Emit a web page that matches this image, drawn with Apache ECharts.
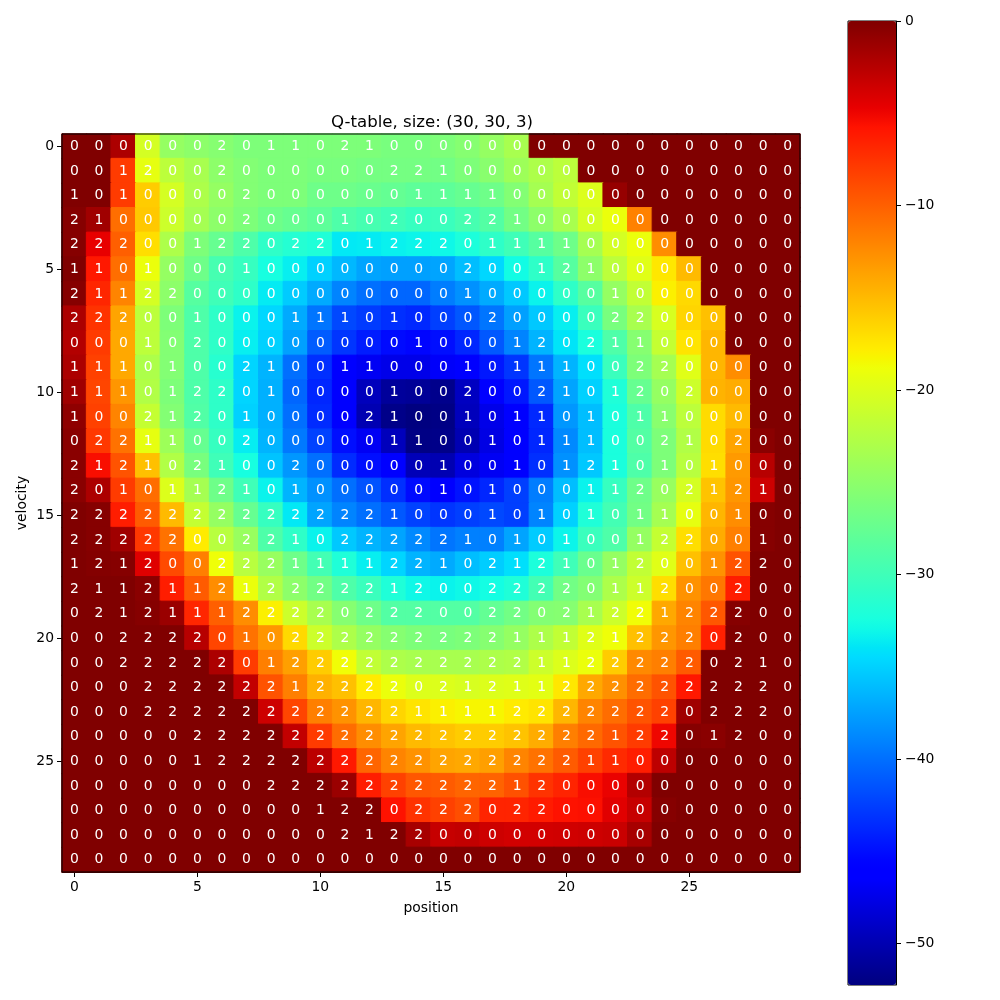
<!DOCTYPE html>
<html>
<head>
<meta charset="utf-8">
<style>html,body{margin:0;padding:0;background:#fff}#c{width:1000px;height:1000px}</style>
<script src="https://cdn.jsdelivr.net/npm/echarts@6/dist/echarts.min.js"></script>
</head>
<body>
<div id="c"></div>
<script>
const titleText = 'Q-table, size: (30, 30, 3)';
const xName = 'position';
const yName = 'velocity';
const positions = Array.from({length:30},(_,i)=>String(i));
const velocities = Array.from({length:30},(_,i)=>String(i));
const colorbarTicks = [0,-10,-20,-30,-40,-50];
const valueMin = -52.25, valueMax = 0;

const maxQ = [
[0,0,-2,-20.5,-24.5,-25,-25.5,-26,-26,-26,-26,-26,-26,-26.3,-26.3,-26,-25.5,-24.5,-23.3,0,0,0,0,0,0,0,0,0,0,0],
[0,0,-8,-19.3,-22,-23.3,-25,-25.7,-26,-26,-26.3,-26.3,-26.5,-26.5,-26.5,-26.7,-26,-25.3,-24,-23,-22,0,0,0,0,0,0,0,0,0],
[0,0,-8,-16,-20.5,-23,-24.5,-25.7,-26,-26,-27,-27,-27.3,-27.6,-28,-28,-27.5,-27,-25.7,-23.5,-21.7,-20,-1,0,0,0,0,0,0,0],
[-0.3,-1.5,-10.8,-15.8,-21,-23.5,-25,-26,-27,-27.5,-28,-29,-29.5,-30,-30.5,-30.3,-29.5,-28.7,-26.7,-25,-23.3,-20.5,-19,-11.8,0,0,0,0,0,0],
[-0.3,-4.7,-10,-17,-23,-26,-27.5,-29,-31,-31.7,-32,-33.8,-33.7,-33.4,-33.2,-33,-32.2,-31,-30,-28.5,-27,-23.5,-20.5,-19,-12.5,0,0,0,0,0],
[0,-6,-10.8,-19,-24.5,-27,-29.5,-30.5,-32.5,-33.5,-35,-36.3,-37.3,-37.5,-37.5,-37.3,-36,-34.7,-32.8,-31,-28.5,-25,-22,-19.7,-17.5,-15,0,0,0,0],
[-0.3,-6.8,-12,-20.5,-25,-28.5,-30,-31,-33.7,-35.3,-37,-39,-40,-40.5,-40.5,-39.3,-38.3,-37,-35.5,-33.3,-31,-28.5,-24.5,-21.7,-18,-16.7,0,0,0,0],
[-2,-7.5,-13.8,-22,-26,-29,-31,-33.3,-34.7,-37,-39.7,-42,-42.7,-43.3,-43.7,-42.5,-41.3,-39.7,-37.5,-35.5,-33.5,-30.3,-26.3,-23.3,-20.3,-16.5,-15.3,0,0,0],
[-2.3,-8,-14,-22,-25.7,-29,-31,-33.5,-35,-37.5,-41,-43,-44.3,-45.2,-45.5,-45,-43.8,-41.2,-39,-36.5,-34,-32.3,-29,-25.5,-21.5,-17.3,-14.8,0,0,0],
[-2,-8.3,-14,-23,-25.7,-29,-31.5,-34.8,-36.5,-40,-43.3,-45.8,-47,-47.5,-47.5,-46.7,-46,-44.5,-43,-39.7,-36.5,-34.3,-30.3,-26,-23.5,-19.7,-14.8,-12.5,0,0],
[-1.5,-8.5,-13,-22.7,-26,-29,-31,-34.8,-36.7,-40.5,-43.8,-46.5,-49.5,-51,-51.2,-51.7,-49.3,-46.5,-44.5,-41.2,-37.3,-35,-32,-27.5,-24.5,-21,-14.6,-14.2,0,0],
[-0.7,-8.3,-12,-21.5,-25.7,-28.8,-31,-35,-36.7,-40,-43.5,-46,-50,-51.8,-52.25,-52,-49.5,-47.5,-46,-43.7,-38,-36,-32.3,-29,-25.3,-22,-16.8,-15,0,0],
[-0.5,-7.8,-11,-19.3,-24,-27.5,-30.5,-33.6,-36.5,-39.5,-42.3,-45,-47,-49.5,-52,-51.8,-50,-47.7,-46,-43.8,-38.7,-36,-32.3,-28.7,-26,-22.7,-16.8,-13.8,-0.5,0],
[-0.5,-5.5,-9.3,-15.3,-22.7,-26.3,-30,-32.5,-35.7,-38,-40,-43.5,-45,-46.3,-49.7,-50,-48,-47,-46,-43.3,-38.3,-35.5,-32.3,-29,-26,-22.3,-17,-13.2,-2.5,0],
[-0.5,-2,-8,-10.7,-20,-23.5,-27,-30,-33.3,-36.5,-38.3,-40,-41.5,-43.3,-45.2,-46,-44.8,-43.8,-42.5,-39.3,-36,-33.3,-30.5,-27,-24.3,-20.5,-15.5,-13,-3.5,0],
[0,-0.3,-6.3,-9.7,-15,-21.5,-24.5,-27.5,-30.5,-33.8,-37.3,-39,-40,-41.2,-42.3,-43,-42.5,-42,-42.5,-39,-35,-32,-29.7,-26.7,-23.5,-19.3,-14.8,-12.5,-0.3,0],
[0,-0.3,-1.5,-7.8,-11,-17.7,-22.3,-24.3,-29,-31,-33.3,-35.5,-36.5,-37.3,-38.7,-39.7,-39.2,-39.2,-37.3,-35.3,-33.2,-30.3,-29,-24.5,-21.5,-17,-14.2,-11.7,-0.3,0],
[0,-0.2,-0.3,-4.3,-8.8,-11.7,-18.8,-22.3,-24.3,-27,-29.7,-32,-33.5,-34.8,-36.5,-37,-36,-35.2,-34.3,-32.2,-30,-27.3,-24.5,-21.7,-19.7,-15.3,-12.8,-9.3,0,0],
[0,0,0,-0.5,-6.3,-9.7,-12.5,-19,-22.7,-25,-26.7,-29,-30.3,-32,-33,-33.3,-33,-32.7,-32,-29.7,-26.7,-25.7,-23,-21,-17,-12.8,-11.3,-6.3,0,0],
[0,0,0,-0.3,-1.2,-6.8,-10,-12.5,-18,-21,-23.3,-25.5,-27,-28.7,-28.7,-28.7,-28.7,-27.7,-26.7,-25.7,-25.5,-23.3,-21,-18.7,-14,-12,-9.5,-0.3,0,0],
[0,0,0,0,0,-2.5,-8.5,-11,-13,-16.7,-21,-23,-24.5,-25.5,-26,-26.3,-26,-25.5,-24.5,-23,-21.7,-19.8,-18.8,-15.3,-13,-11.7,-6.5,0,0,0],
[0,0,0,0,0,0,-2,-8,-11.7,-13.5,-16,-18.7,-21.7,-23,-23.3,-23.3,-23.3,-23,-22.7,-21,-20,-19,-16,-12.3,-11.7,-9.7,0,0,0,0],
[0,0,0,0,0,0,0,-3,-9.3,-11.7,-14.5,-15.3,-17.7,-19,-20,-20,-20.3,-20,-19.8,-19.5,-17.5,-14,-12.7,-10.7,-9.3,-6,0,0,0,0],
[0,0,0,0,0,0,0,0,-3.5,-8.5,-11.7,-12.8,-14.8,-16.5,-17.3,-18,-18.3,-18.3,-17.7,-17.3,-14.8,-12,-10.7,-9.3,-8.3,-1.5,0,0,0,0],
[0,0,0,0,0,0,0,0,0,-3,-8,-10.7,-12.5,-13.8,-15,-15.5,-16,-16,-15.5,-14.2,-11.7,-10.5,-9.3,-8,-5,-0.3,-0.5,0,0,0],
[0,0,0,0,0,0,0,0,0,0,-2.7,-6,-10.3,-12,-12.8,-13.8,-14,-13.5,-12,-11,-9.7,-8.3,-7,-6.3,-2.8,0,0,0,0,0],
[0,0,0,0,0,0,0,0,0,0,0,-1.2,-6.3,-8.3,-9.5,-9.7,-10.3,-10.2,-9.2,-7.5,-6.7,-5.5,-4.8,-2.3,0,0,0,0,0,0],
[0,0,0,0,0,0,0,0,0,0,0,0,0,-5.7,-7.5,-8.3,-9,-6.7,-6.7,-6.2,-5.7,-5.6,-4.4,-3.2,-0.3,0,0,0,0,0],
[0,0,0,0,0,0,0,0,0,0,0,0,0,0,-1.8,-3.2,-3,-3.5,-3.7,-3.7,-3.6,-3.5,-3.3,-1.8,0,0,0,0,0,0],
[0,0,0,0,0,0,0,0,0,0,0,0,0,0,0,0,0,0,0,0,0,0,0,0,0,0,0,0,0,0]
];

const bestAction = [
[0,0,0,0,0,0,2,0,1,1,0,2,1,0,0,0,0,0,0,0,0,0,0,0,0,0,0,0,0,0],
[0,0,1,2,0,0,2,0,0,0,0,0,0,2,2,1,0,0,0,0,0,0,0,0,0,0,0,0,0,0],
[1,0,1,0,0,0,0,2,0,0,0,0,0,0,1,1,1,1,0,0,0,0,0,0,0,0,0,0,0,0],
[2,1,0,0,0,0,0,2,0,0,0,1,0,2,0,0,2,2,1,0,0,0,0,0,0,0,0,0,0,0],
[2,2,2,0,0,1,2,2,0,2,2,0,1,2,2,2,0,1,1,1,1,0,0,0,0,0,0,0,0,0],
[1,1,0,1,0,0,0,1,0,0,0,0,0,0,0,0,2,0,0,1,2,1,0,0,0,0,0,0,0,0],
[2,1,1,2,2,0,0,0,0,0,0,0,0,0,0,0,1,0,0,0,0,0,1,0,0,0,0,0,0,0],
[2,2,2,0,0,1,0,0,0,1,1,1,0,1,0,0,0,2,0,0,0,0,2,2,0,0,0,0,0,0],
[0,0,0,1,0,2,0,0,0,0,0,0,0,0,1,0,0,0,1,2,0,2,1,1,0,0,0,0,0,0],
[1,1,1,0,1,0,0,2,1,0,0,1,1,0,0,0,1,0,1,1,1,0,0,2,2,0,0,0,0,0],
[1,1,1,0,1,2,2,0,1,0,0,0,0,1,0,0,2,0,0,2,1,0,1,2,0,2,0,0,0,0],
[1,0,0,2,1,2,0,1,0,0,0,0,2,1,0,0,1,0,1,1,0,1,0,1,1,0,0,0,0,0],
[0,2,2,1,1,0,0,2,0,0,0,0,0,1,1,0,0,1,0,1,1,1,0,0,2,1,0,2,0,0],
[2,1,2,1,0,2,1,0,0,2,0,0,0,0,0,1,0,0,1,0,1,2,1,0,1,0,1,0,0,0],
[2,0,1,0,1,1,2,1,0,1,0,0,0,0,0,1,0,1,0,0,0,1,1,2,0,2,1,2,1,0],
[2,2,2,2,2,2,2,2,2,2,2,2,2,1,0,0,0,1,0,1,0,1,0,1,1,0,0,1,0,0],
[2,2,2,2,2,0,0,2,2,1,0,2,2,2,2,2,1,0,1,0,1,0,0,1,2,2,0,0,1,0],
[1,2,1,2,0,0,2,2,2,1,1,1,1,2,2,1,0,2,1,2,1,0,1,2,0,0,1,2,2,0],
[2,1,1,2,1,1,2,1,2,2,2,2,2,1,2,0,0,2,2,2,2,0,1,1,2,0,0,2,0,0],
[0,2,1,2,1,1,1,2,2,2,2,0,2,2,2,0,0,2,2,0,2,1,2,2,1,2,2,2,0,0],
[0,0,2,2,2,2,0,1,0,2,2,2,2,2,2,2,2,2,1,1,1,2,1,2,2,2,0,2,0,0],
[0,0,2,2,2,2,2,0,1,2,2,2,2,2,2,2,2,2,2,1,1,2,2,2,2,2,0,2,1,0],
[0,0,0,2,2,2,2,2,2,1,2,2,2,2,0,2,1,2,1,1,2,2,2,2,2,2,2,2,2,0],
[0,0,0,2,2,2,2,2,2,2,2,2,2,2,1,1,1,1,2,2,2,2,2,2,2,0,2,2,2,0],
[0,0,0,0,0,2,2,2,2,2,2,2,2,2,2,2,2,2,2,2,2,2,1,2,2,0,1,2,0,0],
[0,0,0,0,0,1,2,2,2,2,2,2,2,2,2,2,2,2,2,2,2,1,1,0,0,0,0,0,0,0],
[0,0,0,0,0,0,0,0,2,2,2,2,2,2,2,2,2,2,1,2,0,0,0,0,0,0,0,0,0,0],
[0,0,0,0,0,0,0,0,0,0,1,2,2,0,2,2,2,0,2,2,0,0,0,0,0,0,0,0,0,0],
[0,0,0,0,0,0,0,0,0,0,0,2,1,2,2,0,0,0,0,0,0,0,0,0,0,0,0,0,0,0],
[0,0,0,0,0,0,0,0,0,0,0,0,0,0,0,0,0,0,0,0,0,0,0,0,0,0,0,0,0,0]
];

// matplotlib "jet" colormap segments
function seg(pts,t){for(let i=1;i<pts.length;i++){if(t<=pts[i][0]){const a=pts[i-1],b=pts[i];return a[1]+(b[1]-a[1])*(t-a[0])/(b[0]-a[0]);}}return pts[pts.length-1][1];}
const jetR=[[0,0],[.35,0],[.66,1],[.89,1],[1,.5]];
const jetG=[[0,0],[.125,0],[.375,1],[.64,1],[.91,0],[1,0]];
const jetB=[[0,.5],[.11,1],[.34,1],[.65,0],[1,0]];
function jetAt(t){return 'rgb('+Math.round(seg(jetR,t)*255)+','+Math.round(seg(jetG,t)*255)+','+Math.round(seg(jetB,t)*255)+')';}
const jet=[];
for(let i=0;i<=200;i++){jet.push(jetAt(i/200));}

// each cell gets a stroke of its own colour so neighbouring cells leave no seam
const cells=[];
maxQ.forEach((row,y)=>row.forEach((v,x)=>cells.push({
  value:[x,y,v,bestAction[y][x]],
  itemStyle:{borderWidth:1,borderColor:jetAt((v-valueMin)/(valueMax-valueMin))}
})));

const font='"DejaVu Sans"';
const chart=echarts.init(document.getElementById('c'),null,{renderer:'canvas'});
const catAxis=(extra)=>Object.assign({
  type:'category',
  nameLocation:'middle',
  nameMoveOverlap:false,
  nameTextStyle:{fontFamily:font,fontSize:13.9,color:'#000'},
  axisLine:{show:true,onZero:false,lineStyle:{color:'#000',width:1}},
  axisTick:{show:true,alignWithLabel:true,interval:4,length:5,lineStyle:{color:'#000',width:1}},
  axisLabel:{show:true,interval:4,margin:8,fontFamily:font,fontSize:13.9,color:'#000'},
  splitLine:{show:false},splitArea:{show:false}
},extra);
chart.setOption({
  animation:false,
  backgroundColor:'#fff',
  title:{text:titleText,left:427,top:109,textAlign:'center',textStyle:{fontFamily:font,fontSize:16.6,fontWeight:'normal',color:'#000'}},
  tooltip:{show:false},
  grid:[
    {left:62,top:134,width:738,height:738,containLabel:false,show:true,borderColor:'#000',borderWidth:1,backgroundColor:'transparent',z:5},
    {left:848,top:21,width:48,height:964,containLabel:false,show:true,borderColor:'#000',borderWidth:1,backgroundColor:'transparent'}
  ],
  xAxis:[
    catAxis({gridIndex:0,data:positions,position:'bottom',name:xName,nameGap:29}),
    {type:'value',gridIndex:1,show:false,min:0,max:1}
  ],
  yAxis:[
    catAxis({gridIndex:0,data:velocities,inverse:true,position:'left',name:yName,nameGap:33,nameRotate:90}),
    {type:'value',gridIndex:1,position:'right',min:valueMin,max:valueMax,
     axisLine:{show:true,onZero:false,lineStyle:{color:'#000'}},
     axisTick:{show:true,length:5,lineStyle:{color:'#000'},customValues:colorbarTicks},
     axisLabel:{show:true,margin:9,fontFamily:font,fontSize:13.9,color:'#000',customValues:colorbarTicks,
       showMinLabel:true,showMaxLabel:true,formatter:v=>String(v).replace('-','\u2212')},
     splitLine:{show:false}}
  ],
  visualMap:[{
    type:'continuous',seriesIndex:0,dimension:2,min:valueMin,max:valueMax,calculable:false,realtime:false,hoverLink:false,
    orient:'vertical',left:848,top:21,itemWidth:48,itemHeight:964,padding:0,text:null,showLabel:false,
    inRange:{color:jet},z:1
  }],
  series:[{
    type:'heatmap',xAxisIndex:0,yAxisIndex:0,data:cells,silent:true,progressive:0,
    encode:{x:0,y:1,value:2},
    label:{show:true,position:'inside',color:'#fff',fontFamily:font,fontSize:13.9,formatter:p=>String(p.value[3])},
    emphasis:{disabled:true}
  }]
});
</script>
</body>
</html>
